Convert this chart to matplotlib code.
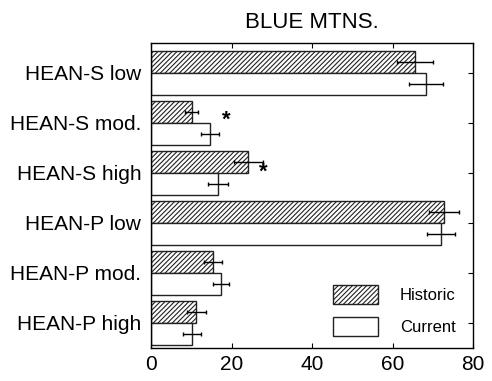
import matplotlib
matplotlib.use("Agg")
import matplotlib.pyplot as plt
import numpy as np

categories = ["HEAN-S low", "HEAN-S mod.", "HEAN-S high", "HEAN-P low", "HEAN-P mod.", "HEAN-P high"]
historic = [65.5, 10.1, 24.2, 72.8, 15.4, 11.3]
historic_err = [4.5, 1.6, 3.7, 3.8, 2.3, 2.4]
current = [68.4, 14.7, 16.7, 72.1, 17.4, 10.2]
current_err = [4.2, 2.3, 2.5, 3.5, 2.1, 2.3]
star_idx = [1, 2]
star_x = [18.6, 27.8]
xticks = [0, 20, 40, 60, 80]
title = "BLUE MTNS."

plt.rcParams['font.family'] = ['Liberation Sans', 'DejaVu Sans']
plt.rcParams['hatch.linewidth'] = 0.8
plt.rcParams['hatch.color'] = 'black'

fig = plt.figure(figsize=(4.92, 3.81), dpi=100)
ax = fig.add_axes([151/492, 1-348/381, (473-151)/492, (348-43)/381])

y = np.arange(len(categories))
h = 0.44
ax.barh(y - h/2, historic, height=h, color='white', edgecolor='#222222',
        hatch='///////', linewidth=1.0, label='Historic')
ax.barh(y + h/2, current, height=h, color='white', edgecolor='#222222',
        linewidth=1.0, label='Current')
ax.errorbar(historic, y - h/2, xerr=historic_err, fmt='none', ecolor='black',
            elinewidth=1.0, capsize=1.6, capthick=1.0)
ax.errorbar(current, y + h/2, xerr=current_err, fmt='none', ecolor='black',
            elinewidth=1.0, capsize=1.6, capthick=1.0)

star_dy = [-0.06, -0.02]
for i, sx, dy in zip(star_idx, star_x, star_dy):
    ax.text(sx, y[i] + dy, "*", fontsize=16, fontweight='bold', ha='center', va='center')

ax.set_xlim(0, 80)
ax.set_ylim(5.5, -0.6)
ax.set_xticks(xticks)
ax.set_yticks(y)
ax.set_yticklabels(categories)
ax.tick_params(axis='x', direction='in', top=True, bottom=True, length=3.5,
               labelsize=15, pad=5)
ax.tick_params(axis='y', direction='in', left=False, right=True, length=3.5,
               labelsize=15, pad=7)
for s in ax.spines.values():
    s.set_linewidth(1.0)

ax.set_title(title, fontsize=16, pad=11)

ax.legend(loc='upper left', bbox_to_anchor=(333/492, 1-285/381),
          bbox_transform=fig.transFigure, frameon=False, fontsize=12,
          handlelength=2.7, handleheight=1.42, handletextpad=1.3,
          labelspacing=0.75, borderpad=0, borderaxespad=0)

fig.savefig("out.png", dpi=100)
